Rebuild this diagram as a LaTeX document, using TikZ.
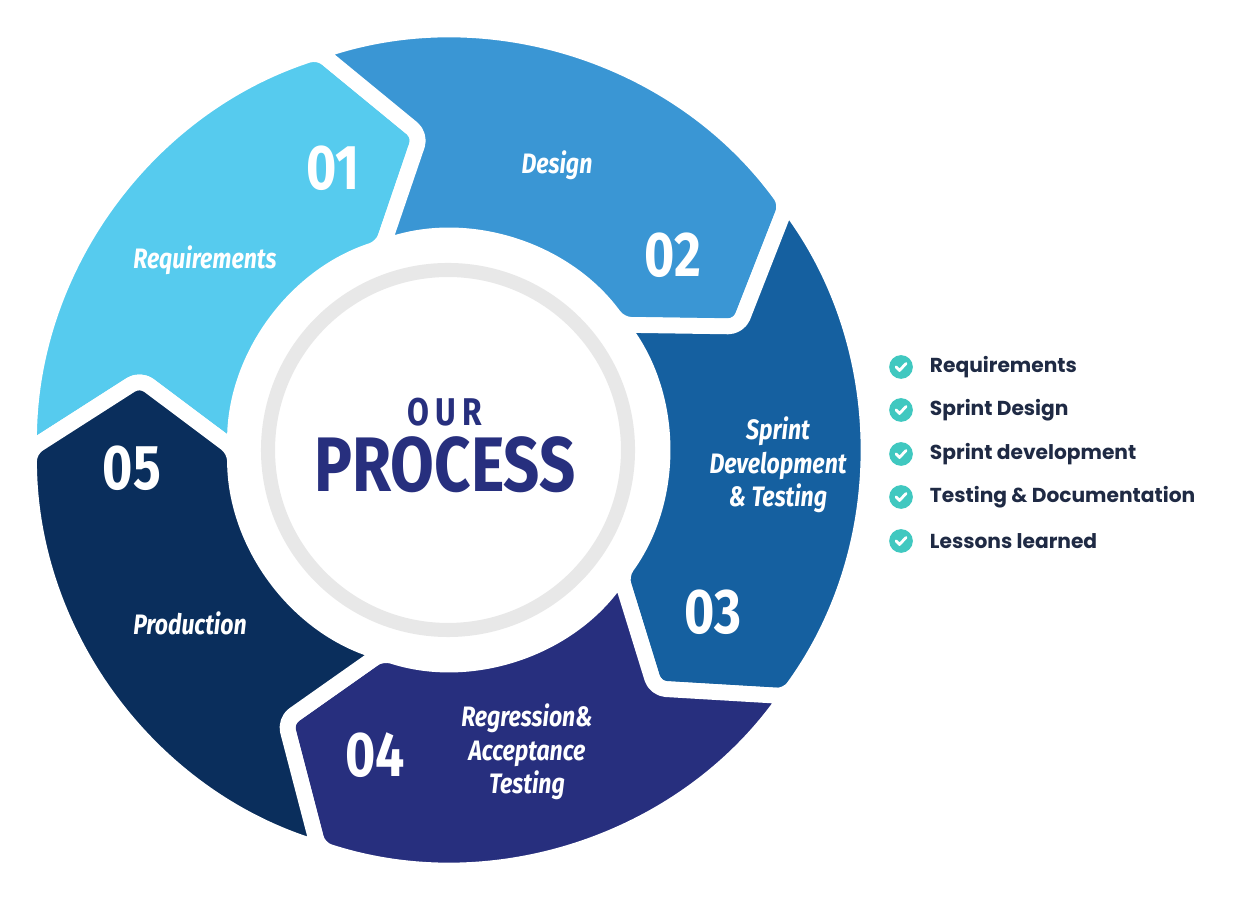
\documentclass[tikz,border=0pt]{standalone}
\usepackage{fontspec}
\setmainfont{Fira Sans}
\newfontfamily\condfont[FakeStretch=0.82]{Fira Sans}
\newfontfamily\listfont{Poppins}
\usetikzlibrary{calc,positioning}
\definecolor{cReq}{HTML}{56CBEE}
\definecolor{cDes}{HTML}{3A96D4}
\definecolor{cDev}{HTML}{1560A0}
\definecolor{cReg}{HTML}{272F7E}
\definecolor{cPro}{HTML}{0A2E5C}
\definecolor{cTeal}{HTML}{40C8C0}
\definecolor{cText}{HTML}{1F2A44}
\tikzset{
  seg/.style={draw=white, line width=9pt, rounded corners=6pt, line join=round},
  num/.style={text=white, font=\condfont\bfseries\fontsize{36}{36}\selectfont},
  lbl/.style={text=white, align=center, font=\condfont\bfseries\itshape\fontsize{16}{19}\selectfont},
  item/.style={anchor=west, text=cText, font=\listfont\bfseries\fontsize{11.5}{13}\selectfont},
  tick/.style={circle, fill=cTeal, minimum size=13.5pt, inner sep=0pt}
}
\begin{document}
\begin{tikzpicture}[x=0.02cm, y=0.02cm]
    \useasboundingbox (0,0) rectangle (1236,898);
    \coordinate (C) at (448,448);
    % ring of arrow segments
    \foreach \a/\c in {180/cReq, 108/cDes, 36/cDev, -36/cReg, -108/cPro}{
      \draw[seg, fill=\c] ($(C)+(\a:419)$) arc[start angle=\a, end angle=\a-72, radius=419]
        -- ($(C)+(\a-85:316)$) -- ($(C)+(\a-72:213)$)
        arc[start angle=\a-72, end angle=\a, radius=213]
        -- ($(C)+(\a-13:316)$) -- cycle;
    }
    % centre
    \fill[white] (C) circle (210);
    \draw[gray!18, line width=8pt] (C) circle (180);
    \node[text=cReg, font=\condfont\bfseries\fontsize{22}{22}\selectfont] (our) at (445,486) {O\,U\,R};
    \node[text=cReg, font=\condfont\bfseries\fontsize{44}{44}\selectfont] (process) at (445,433) {PROCESS};
    % numbers and labels
    \node[num] (n1) at (333,730) {01};
    \node[lbl] (l1) at (205,638) {Requirements};
    \node[lbl] (l2) at (557,733) {Design};
    \node[num] (n2) at (673,643) {02};
    \node[lbl] (l3) at (778,433) {Sprint\\Development\\\& Testing};
    \node[num] (n3) at (713,286) {03};
    \node[lbl] (l4) at (527,146) {Regression\&\\Acceptance\\Testing};
    \node[num] (n4) at (375,143) {04};
    \node[num] (n5) at (132,430) {05};
    \node[lbl] (l5) at (190,275) {Production};
    % checklist
    \foreach \i/\t [count=\k] in {531/Requirements, 488/Sprint Design, 444/Sprint development, 401/Testing \& Documentation, 357/Lessons learned}{
      \node[tick] (t\k) at (901,\i) {};
      \draw[white, line width=1.6pt, line cap=round, line join=round]
        ($(t\k)+(-5,0)$) -- ($(t\k)+(-1.5,-3.5)$) -- ($(t\k)+(5,3.5)$);
      \node[item, right=6pt of t\k] (i\k) {\t};
    }
\end{tikzpicture}
\end{document}
